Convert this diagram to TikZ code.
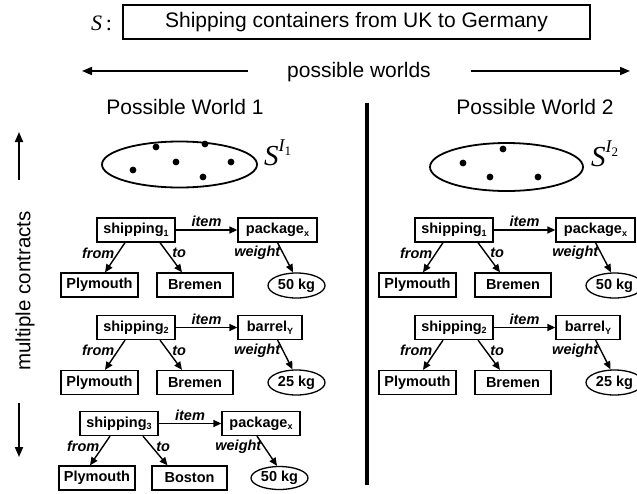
\documentclass[tikz,border=0pt]{standalone}
\usepackage{fontspec}
\setmainfont{Liberation Sans}
\newfontfamily\timesf{Liberation Serif}
\usetikzlibrary{arrows.meta,shapes.geometric}
\newcommand\sbs[1]{\raisebox{-2.5pt}{\fontsize{9}{9}\selectfont #1}}
\tikzset{
  x=1pt, y=-1pt,
  nbox/.style={draw, line width=1.3pt, minimum height=24pt, inner sep=0pt,
    font=\fontsize{14.5}{16}\selectfont\bfseries},
  nell/.style={draw, ellipse, line width=1.3pt, minimum height=25pt, minimum width=57pt,
    inner sep=0pt, font=\fontsize{14.5}{16}\selectfont\bfseries},
  rel/.style={-{Triangle[length=8pt,width=7pt]}, line width=1.4pt},
  lbl/.style={font=\fontsize{14.5}{16}\selectfont\bfseries\itshape, inner sep=1pt},
  big/.style={font=\fontsize{21}{25}\selectfont},
  bigarrow/.style={-{Triangle[length=10pt,width=8pt]}, line width=1.8pt},
  setell/.style={draw, ellipse, line width=1.8pt, inner sep=0pt},
}
\begin{document}
\begin{tikzpicture}
\useasboundingbox (0,0) rectangle (637,493);

% top
\node[anchor=base west, inner sep=0pt] (Slbl) at (91,30)
  {\timesf\fontsize{22}{22}\selectfont\itshape S\,\upshape:};
\node[draw, line width=1.6pt, minimum width=467pt, minimum height=34pt, big] (top)
  at (356.5,22) {Shipping containers from UK to Germany};

\node[big] (pw) at (359,72.5) {possible worlds};
\coordinate (la0) at (248,71);
\coordinate (la1) at (82,71);
\coordinate (ra0) at (471,71);
\coordinate (ra1) at (630,71);
\draw[bigarrow] (la0) -- (la1);
\draw[bigarrow] (ra0) -- (ra1);

\node[big] (pwa) at (185,106.5) {Possible World 1};
\node[big] (pwb) at (535,106.5) {Possible World 2};

\coordinate (v0) at (367,103);
\coordinate (v1) at (367,485);
\draw[line width=4pt] (v0) -- (v1);

% side
\node[font=\fontsize{20.5}{24}\selectfont, rotate=90] (mc) at (25,291) {multiple contracts};
\coordinate (ua0) at (19,180);
\coordinate (ua1) at (19,132);
\coordinate (da0) at (19,403);
\coordinate (da1) at (19,457);
\draw[bigarrow] (ua0) -- (ua1);
\draw[bigarrow] (da0) -- (da1);

% sets
\node[setell, minimum width=155pt, minimum height=46pt] (E1) at (179.5,164.5) {};
\fill (156,147) circle (3.4) (205,144) circle (3.4) (133,170) circle (3.4)
      (176,162) circle (3.4) (231,162) circle (3.4) (203,177) circle (3.4);
\node[anchor=base west, inner sep=0pt] (L1) at (264,165)
  {\timesf\itshape\fontsize{29}{29}\selectfont S\raisebox{14pt}{\fontsize{18}{18}\selectfont I\raisebox{-4pt}{\upshape\fontsize{13}{13}\selectfont 1}}};

\node[setell, minimum width=153pt, minimum height=48pt] (E2) at (506.5,167) {};
\fill (503,149) circle (3.4) (463,163) circle (3.4) (490,177) circle (3.4) (538,177) circle (3.4);
\node[anchor=base west, inner sep=0pt] (L2) at (591,166)
  {\timesf\itshape\fontsize{29}{29}\selectfont S\raisebox{14pt}{\fontsize{18}{18}\selectfont I\raisebox{-4pt}{\upshape\fontsize{13}{13}\selectfont 2}}};

% ---------- left column, contract 1
\node[nbox, minimum width=78pt] (s1) at (136,230) {shipping\sbs{1}};
\node[nbox, minimum width=79pt] (k1) at (277.5,230) {package\sbs{x}};
\node[nbox, minimum width=77pt] (p1) at (99.5,285) {Plymouth};
\node[nbox, minimum width=76pt] (b1) at (195,285) {Bremen};
\node[nell] (w1) at (296.5,285.5) {50 kg};
\draw[rel] (s1.east) -- node[lbl, above=1.5pt] {item} (k1.west);
\draw[rel] ([xshift=-11pt]s1.south) -- node[lbl, pos=0.35, anchor=east, xshift=-2pt] {from} ([xshift=5.5pt]p1.north);
\draw[rel] ([xshift=24pt]s1.south) -- node[lbl, pos=0.35, anchor=west, xshift=3pt] {to} ([xshift=-13pt]b1.north);
\draw[rel] (k1.south) -- node[lbl, pos=0.35, anchor=east, xshift=-1pt] {weight} ([xshift=-3.5pt]w1.north);

% ---------- left column, contract 2
\node[nbox, minimum width=78pt] (s2) at (136,327.5) {shipping\sbs{2}};
\node[nbox, minimum width=64pt] (y2) at (270,327.5) {barrel\sbs{Y}};
\node[nbox, minimum width=77pt] (p2) at (99.5,382.5) {Plymouth};
\node[nbox, minimum width=76pt] (b2) at (195,382.5) {Bremen};
\node[nell] (w2) at (296.5,382.5) {25 kg};
\draw[rel] (s2.east) -- node[lbl, above=1.5pt] {item} (y2.west);
\draw[rel] ([xshift=-11pt]s2.south) -- node[lbl, pos=0.35, anchor=east, xshift=-2pt] {from} ([xshift=5.5pt]p2.north);
\draw[rel] ([xshift=24pt]s2.south) -- node[lbl, pos=0.35, anchor=west, xshift=3pt] {to} ([xshift=-13pt]b2.north);
\draw[rel] ([xshift=-25pt]y2.south east) -- node[lbl, pos=0.35, anchor=east, xshift=-1pt] {weight} ([xshift=-4pt]w2.north);

% ---------- left column, contract 3
\node[nbox, minimum width=78pt] (s3) at (119,423.5) {shipping\sbs{3}};
\node[nbox, minimum width=78pt] (k3) at (261,423.5) {package\sbs{x}};
\node[nbox, minimum width=76pt] (p3) at (97,478) {Plymouth};
\node[nbox, minimum width=75pt] (o3) at (189.5,478) {Boston};
\node[nell, minimum height=23pt] (w3) at (279.5,478) {50 kg};
\draw[rel] (s3.east) -- node[lbl, above=1.5pt] {item} (k3.west);
\draw[rel] ([xshift=-9pt]s3.south) -- node[lbl, pos=0.35, anchor=east, xshift=-2pt] {from} ([xshift=-7pt]p3.north);
\draw[rel] ([xshift=24pt]s3.south) -- node[lbl, pos=0.35, anchor=west, xshift=3pt] {to} ([xshift=-22pt]o3.north);
\draw[rel] ([xshift=-4pt]k3.south) -- node[lbl, pos=0.35, anchor=east, xshift=-1pt] {weight} ([xshift=-2.5pt]w3.north);

% ---------- right column, contract 1
\node[nbox, minimum width=78pt] (rs1) at (454,230) {shipping\sbs{1}};
\node[nbox, minimum width=79pt] (rk1) at (595.5,230) {package\sbs{x}};
\node[nbox, minimum width=77pt] (rp1) at (417.5,285) {Plymouth};
\node[nbox, minimum width=76pt] (rb1) at (513,285) {Bremen};
\node[nell] (rw1) at (614.5,285.5) {50 kg};
\draw[rel] (rs1.east) -- node[lbl, above=1.5pt] {item} (rk1.west);
\draw[rel] ([xshift=-11pt]rs1.south) -- node[lbl, pos=0.35, anchor=east, xshift=-2pt] {from} ([xshift=5.5pt]rp1.north);
\draw[rel] ([xshift=24pt]rs1.south) -- node[lbl, pos=0.35, anchor=west, xshift=3pt] {to} ([xshift=-13pt]rb1.north);
\draw[rel] (rk1.south) -- node[lbl, pos=0.35, anchor=east, xshift=-1pt] {weight} ([xshift=-3.5pt]rw1.north);

% ---------- right column, contract 2
\node[nbox, minimum width=78pt] (rs2) at (454,327.5) {shipping\sbs{2}};
\node[nbox, minimum width=64pt] (ry2) at (588,327.5) {barrel\sbs{Y}};
\node[nbox, minimum width=77pt] (rp2) at (417.5,382.5) {Plymouth};
\node[nbox, minimum width=76pt] (rb2) at (513,382.5) {Bremen};
\node[nell] (rw2) at (614.5,382.5) {25 kg};
\draw[rel] (rs2.east) -- node[lbl, above=1.5pt] {item} (ry2.west);
\draw[rel] ([xshift=-11pt]rs2.south) -- node[lbl, pos=0.35, anchor=east, xshift=-2pt] {from} ([xshift=5.5pt]rp2.north);
\draw[rel] ([xshift=24pt]rs2.south) -- node[lbl, pos=0.35, anchor=west, xshift=3pt] {to} ([xshift=-13pt]rb2.north);
\draw[rel] ([xshift=-25pt]ry2.south east) -- node[lbl, pos=0.35, anchor=east, xshift=-1pt] {weight} ([xshift=-4pt]rw2.north);
\end{tikzpicture}
\end{document}
